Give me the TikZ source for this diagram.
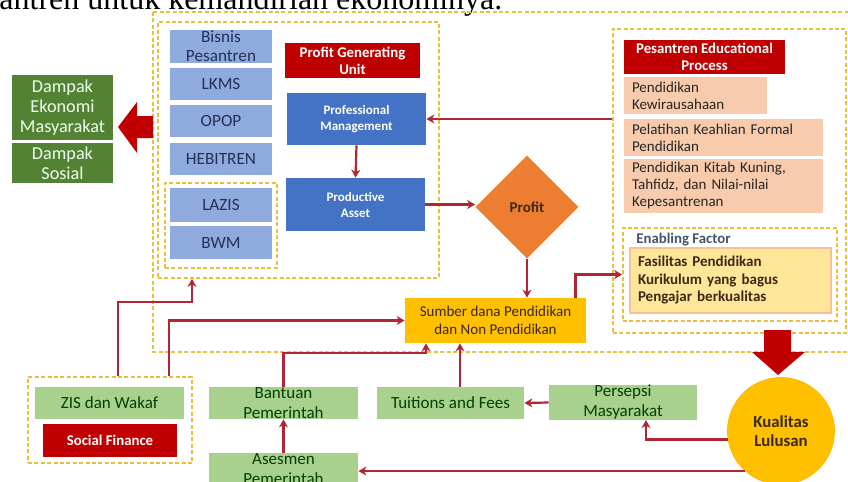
\documentclass[tikz,border=0pt]{standalone}
\usepackage{fontspec}
\setmainfont{Carlito}
\newfontfamily\bodyserif{Liberation Serif}
\definecolor{FlowColor}{RGB}{178,38,52}
\definecolor{UnitColor}{RGB}{143,170,220}
\definecolor{NavyText}{RGB}{36,48,88}
\definecolor{ManageColor}{RGB}{68,114,196}
\definecolor{TitleRed}{RGB}{192,0,0}
\definecolor{PeachColor}{RGB}{248,203,173}
\definecolor{GoldColor}{RGB}{255,192,0}
\definecolor{CreamColor}{RGB}{255,230,153}
\definecolor{OrangeColor}{RGB}{237,125,49}
\definecolor{ImpactColor}{RGB}{84,130,53}
\definecolor{SourceColor}{RGB}{169,209,142}
\definecolor{DashColor}{RGB}{232,192,60}
\definecolor{SlateColor}{RGB}{68,84,106}
\definecolor{DarkText}{RGB}{60,40,20}
\usepackage{tikz}
\usetikzlibrary{positioning, arrows.meta, shapes.geometric}
\tikzstyle{flow} = [line width=1.1pt, FlowColor, -{Stealth[length=4pt,width=4.5pt]}]
\tikzstyle{groupbox} = [rectangle, draw=DashColor, line width=0.9pt, dash pattern=on 2pt off 1.2pt, inner sep=0pt]
\tikzstyle{unit} = [rectangle, fill=UnitColor, text=NavyText, inner sep=0pt, minimum width=51pt, align=center, font=\fontsize{8.6}{9.5}\selectfont]
\tikzstyle{redtitle} = [rectangle, fill=TitleRed, text=white, inner sep=0pt, align=center, font=\bfseries\fontsize{7.4}{8.5}\selectfont]
\tikzset{
  manage/.style={rectangle, fill=ManageColor, text=white, inner sep=0pt, minimum width=69.5pt, align=center, font=\bfseries\fontsize{6.5}{8}\selectfont},
  eduitem/.style={rectangle, fill=PeachColor, text=black!85, inner xsep=4pt, inner ysep=0pt, align=left, font=\fontsize{7.5}{8.5}\selectfont},
  impact/.style={rectangle, fill=ImpactColor, text=green!8!white, inner sep=0pt, minimum width=50.5pt, align=center, font=\fontsize{9.1}{10}\selectfont},
  source/.style={rectangle, fill=SourceColor, text=black!75!green, inner sep=0pt, minimum width=74.5pt, minimum height=16pt, align=center, font=\fontsize{8.5}{10}\selectfont},
  bigarrow/.style={fill=TitleRed, draw=none}
}
\begin{document}
\begin{tikzpicture}[x=0.5pt, y=-0.5pt]
  \useasboundingbox (0,0) rectangle (848,482);
  % Cut text line above the figure
  \node[anchor=base west, inner sep=0pt, font=\bodyserif\fontsize{16}{18}\selectfont] (caption) at (-1,10) {antren untuk kemandirian ekonominya.};

  % Dashed groups
  \draw[groupbox] (153,12) rectangle (852,352);
  \node[groupbox, minimum width=140.5pt, minimum height=128pt] (unitgroup) at (298.5,150) {};
  \node[groupbox, minimum width=56pt, minimum height=42.5pt] (socialgroup) at (221,225.5) {};
  \node[groupbox, minimum width=116.5pt, minimum height=152pt] (eduproc) at (729.5,181) {};
  \node[groupbox, minimum width=107pt, minimum height=46.5pt] (enabling) at (730,274.5) {};
  \node[groupbox, minimum width=82pt, minimum height=43pt] (zisgroup) at (110,420) {};

  % Business units
  \node[unit, minimum height=16.5pt] (bisnis) at (221,46.5) {Bisnis\\Pesantren};
  \node[unit, minimum height=16pt] (lkms) at (221,84) {LKMS};
  \node[unit, minimum height=16pt] (opop) at (221,121) {OPOP};
  \node[unit, minimum height=16pt] (hebitren) at (221,159) {HEBITREN};
  \node[unit, minimum height=17pt] (lazis) at (221,205) {LAZIS};
  \node[unit, minimum height=16.5pt] (bwm) at (221,242.5) {BWM};

  % Profit generating unit
  \node[redtitle, minimum width=67.5pt, minimum height=17.5pt] (pgu) at (352.5,60.5) {Profit Generating\\Unit};
  \node[manage, minimum height=26pt] (profman) at (356.5,119) {Professional\\Management};
  \node[manage, minimum height=26.5pt] (prodasset) at (355.5,204.5) {Productive\\Asset};
  \node[diamond, fill=OrangeColor, inner sep=0pt, minimum width=51.5pt, minimum height=51.5pt, text=DarkText, font=\bfseries\fontsize{7.5}{9}\selectfont] (profit) at (527,207) {Profit};
  \node[rectangle, fill=GoldColor, inner sep=0pt, minimum width=90.5pt, minimum height=22.5pt, align=center, text=DarkText, font=\fontsize{7.5}{9}\selectfont] (sumber) at (495.5,320.5) {Sumber dana Pendidikan\\dan Non Pendidikan};

  % Educational process
  \node[redtitle, minimum width=80.5pt, minimum height=17pt] (pep) at (704.5,57) {Pesantren Educational\\Process};
  \node[eduitem, text width=63.5pt, minimum height=18.5pt] (kewira) at (695.5,95.5) {Pendidikan\\Kewirausahaan};
  \node[eduitem, text width=91.5pt, minimum height=18.5pt] (pelatihan) at (723.5,137.5) {Pelatihan Keahlian Formal\\Pendidikan};
  \node[eduitem, text width=91.5pt, minimum height=27pt] (kitab) at (723.5,186) {Pendidikan Kitab Kuning,\\Tahfidz, dan Nilai-nilai\\Kepesantrenan};
  \node[anchor=west, inner sep=0pt, text=SlateColor, font=\bfseries\fontsize{7.4}{9}\selectfont] (enablelabel) at (636,240) {Enabling Factor};
  \node[rectangle, fill=CreamColor, draw=PeachColor!85!orange, line width=0.8pt, inner xsep=4pt, inner ysep=0pt, text width=92.5pt, minimum height=32.5pt, align=left, text=DarkText, font=\bfseries\fontsize{7.5}{8.75}\selectfont] (fasilitas) at (730.5,280.5) {Fasilitas Pendidikan\\Kurikulum yang bagus\\Pengajar berkualitas};

  % Impacts
  \node[impact, minimum height=32.5pt] (ekonomi) at (62.5,107.5) {Dampak\\Ekonomi\\Masyarakat};
  \node[impact, minimum height=20pt] (sosial) at (62.5,163) {Dampak\\Sosial};
  \draw[bigarrow] (153,116) -- (137,116) -- (137,102) -- (118,127) -- (137,153) -- (137,138) -- (153,138) -- cycle;

  % Funding sources
  \node[source] (zis) at (109.5,403) {ZIS dan Wakaf};
  \node[redtitle, minimum width=67pt, minimum height=16.5pt] (socfin) at (110,440.5) {Social Finance};
  \node[source] (bantuan) at (283.5,403) {Bantuan\\Pemerintah};
  \node[source, minimum width=73.5pt] (tuition) at (450.5,403) {Tuitions and Fees};
  \node[source, minimum width=74pt, minimum height=15.5pt] (persepsi) at (623,402.5) {Persepsi\\Masyarakat};
  \node[source, minimum height=16.5pt] (asesmen) at (283.5,469.5) {Asesmen\\Pemerintah};

  % Graduates
  \draw[bigarrow] (764,330) -- (791,330) -- (791,352) -- (805,352) -- (778,375) -- (752,352) -- (764,352) -- cycle;
  \node[circle, fill=GoldColor, draw=GoldColor!90!orange, inner sep=0pt, minimum size=53.5pt, align=center, text=DarkText, font=\bfseries\fontsize{8.4}{9.5}\selectfont] (kualitas) at (781,431) {Kualitas\\Lulusan};

  % Connectors
  \draw[flow] (eduproc.west |- profman.east) -- (profman.east);
  \draw[flow] (profman.south) -- (prodasset.north);
  \draw[flow] (prodasset.east) -- (prodasset.east -| profit.west);
  \draw[flow] (profit.south) -- (profit.south |- sumber.north);
  \draw[flow] ([xshift=-5.5pt]sumber.north east) |- (enabling.west);
  \draw[flow] ([xshift=4pt]zisgroup.north) -- ++(0,-74) -| ([xshift=-53.25pt]unitgroup.south);
  \draw[flow] ([xshift=29.5pt]zisgroup.north) |- (sumber.west);
  \draw[flow] (bantuan.north) -- ++(0,-34) -| ([xshift=-34.75pt]sumber.south);
  \draw[flow] ([xshift=4.75pt]tuition.north) -- ([xshift=4.75pt]tuition.north |- sumber.south);
  \draw[flow] (persepsi.west) -- (tuition.east);
  \draw[flow] (kualitas.189) -| ([xshift=11.5pt]persepsi.south);
  \draw[flow] (asesmen.north) -- (bantuan.south);
  \draw[flow] (kualitas.228) -- (kualitas.228 -| asesmen.east);
\end{tikzpicture}
\end{document}
